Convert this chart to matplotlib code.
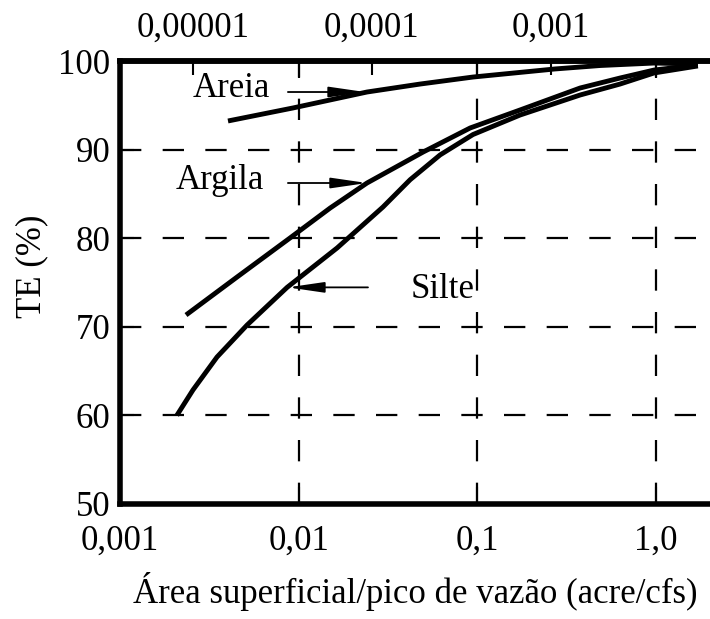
import numpy as np
import matplotlib.pyplot as plt

plt.rcParams['font.family'] = ['Liberation Serif', 'DejaVu Serif']

# trap efficiency curves, TE (%) vs area/peak flow (acre/cfs)
areia_x = [0.00402, 0.00929, 0.0241, 0.0478, 0.0944, 0.271, 0.485, 0.973, 1.71]
areia_y = [93.23, 94.70, 96.50, 97.40, 98.19, 99.10, 99.49, 99.77, 99.66]

argila_x = [0.00234, 0.00452, 0.00893, 0.0150, 0.0241, 0.0497, 0.0910,
            0.173, 0.375, 0.628, 0.973, 1.71]
argila_y = [71.33, 75.62, 80.02, 83.41, 86.23, 89.73, 92.44, 94.47, 96.95,
            98.08, 98.98, 99.55]

silte_x = [0.00208, 0.00256, 0.00349, 0.00514, 0.00861, 0.0164,
           0.0296, 0.0420, 0.0618, 0.0944, 0.173, 0.375, 0.628, 0.973, 1.71]
silte_y = [60.0, 62.87, 66.59, 70.20, 74.45, 78.9,
           83.52, 86.6, 89.4, 91.7, 93.90, 96.16, 97.40, 98.65, 99.44]

xticks = [0.001, 0.01, 0.1, 1.0]
xtick_labels = ['0,001', '0,01', '0,1', '1,0']
top_ticks = [1e-5, 1e-4, 1e-3]
top_labels = ['0,00001', '0,0001', '0,001']
yticks = [50, 60, 70, 80, 90, 100]
k_top = 0.0039

fig = plt.figure(figsize=(7.10, 6.19), dpi=100)
ax = fig.add_axes([120 / 710, 1 - 504 / 619, 1 - 120 / 710, (504 - 61) / 619])

ax.set_xscale('log')
ax.set_xlim(0.001, 2.0)
ax.set_ylim(50, 100)

for s in ['left', 'bottom', 'top']:
    ax.spines[s].set_linewidth(4)
ax.spines['right'].set_visible(False)

# dashed reference grid
dash = (0, (9.6, 9.6))
for y in [60, 70, 80, 90]:
    ax.axhline(y, color='black', lw=1.6, ls=dash, zorder=1)
for x in [0.01, 0.1, 1.0]:
    ax.axvline(x, color='black', lw=1.6, ls=dash, zorder=1)

lw = 3.5
for xs, ys in [(areia_x, areia_y), (argila_x, argila_y), (silte_x, silte_y)]:
    ax.plot(xs, ys, color='black', lw=lw, solid_capstyle='butt',
            solid_joinstyle='round', zorder=3)

ax.set_xticks(xticks)
ax.set_xticklabels(xtick_labels)
ax.xaxis.set_minor_locator(plt.NullLocator())
ax.set_yticks(yticks)
ax.tick_params(axis='x', which='major', direction='in', length=12, width=1.5,
               labelsize=25, pad=15, top=True)
ax.tick_params(axis='y', which='major', direction='in', length=10, width=1.5,
               labelsize=25, pad=7)

top = ax.secondary_xaxis('top', functions=(lambda x: x * k_top, lambda x: x / k_top))
top.set_xticks(top_ticks)
top.set_xticklabels(top_labels)
top.xaxis.set_minor_locator(plt.NullLocator())
top.tick_params(direction='in', length=10, width=1.5, labelsize=25, pad=12)
top.spines['top'].set_linewidth(4)

ax.set_xlabel('Área superficial/pico de vazão (acre/cfs)', fontsize=25, labelpad=10)
ax.set_ylabel('TE (%)', fontsize=25)
ax.yaxis.set_label_coords(-0.122, 0.536)

# curve labels with pointer arrows
arrow = dict(arrowstyle='-|>,head_length=1.1,head_width=0.16', color='black',
             lw=1.3, shrinkA=0, shrinkB=0, mutation_scale=20)
ax.annotate('', xy=(0.0235, 96.5), xytext=(0.0087, 96.5), arrowprops=arrow, zorder=4)
ax.text(0.00418, 96.85, 'Areia', fontsize=25, ha='center', va='center')
ax.annotate('', xy=(0.0241, 86.23), xytext=(0.0087, 86.23), arrowprops=arrow, zorder=4)
ax.text(0.00363, 86.5, 'Argila', fontsize=25, ha='center', va='center')
ax.annotate('', xy=(0.0087, 74.45), xytext=(0.0244, 74.45), arrowprops=arrow, zorder=4)
ax.text(0.0641, 74.2, 'Silte', fontsize=25, ha='center', va='center')

fig.savefig('out.png', dpi=100)
